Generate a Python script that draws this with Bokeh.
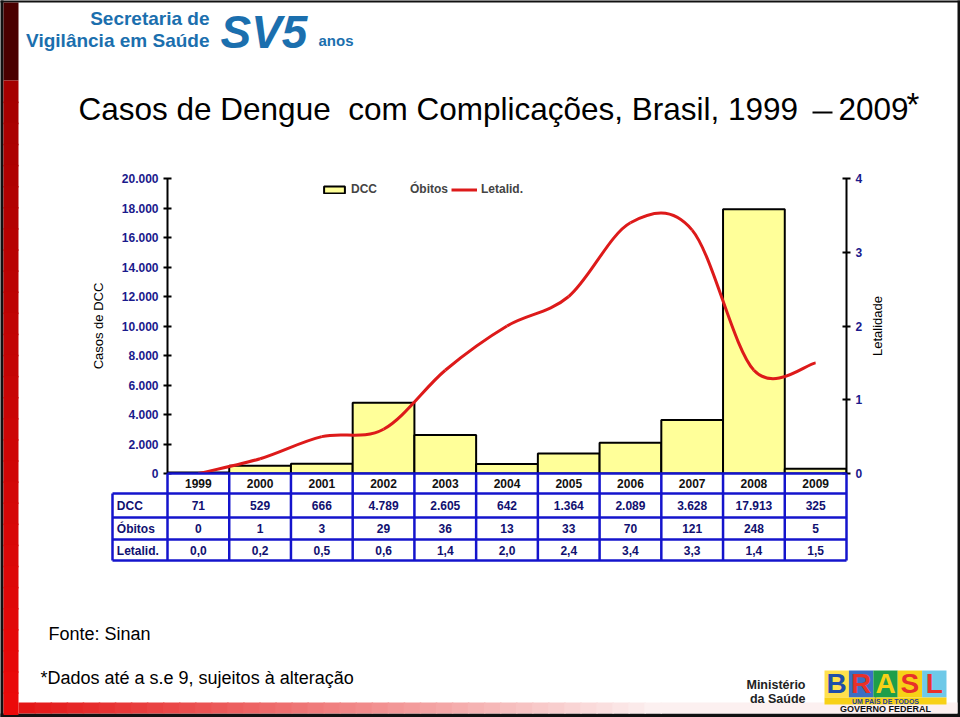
import math
from bokeh.plotting import figure
from bokeh.models import Range1d, FactorRange, LinearAxis, FixedTicker, Legend, LegendItem
from bokeh.core.properties import value
from bokeh.embed import file_html
from bokeh.resources import INLINE

# ---------------- data ----------------
years = ["1999", "2000", "2001", "2002", "2003", "2004", "2005", "2006", "2007", "2008", "2009"]
dcc = [71, 529, 666, 4789, 2605, 642, 1364, 2089, 3628, 17913, 325]
obitos = [0, 1, 3, 29, 36, 13, 33, 70, 121, 248, 5]
letalid = [0.0, 0.2, 0.5, 0.6, 1.4, 2.0, 2.4, 3.4, 3.3, 1.4, 1.5]
left_ticks = [0, 2000, 4000, 6000, 8000, 10000, 12000, 14000, 16000, 18000, 20000]
left_tick_labels = ["0", "2.000", "4.000", "6.000", "8.000", "10.000", "12.000", "14.000", "16.000", "18.000", "20.000"]
right_ticks = [0, 1, 2, 3, 4]
right_tick_labels = ["0", "1", "2", "3", "4"]
row_labels = ["DCC", "Óbitos", "Letalid."]
series_names = ["DCC", "Óbitos", "Letalid."]

def fmt_int(n):
    return f"{n:,}".replace(",", ".")

def fmt_dec(v):
    return f"{v:.1f}".replace(".", ",")

dcc_txt = [fmt_int(v) for v in dcc]
obitos_txt = [str(v) for v in obitos]
letalid_txt = [fmt_dec(v) for v in letalid]

# ---------------- layout constants (reference pixels) ----------------
W, H = 960, 717
FL, FR, FT, FB = 167, 846, 178, 473
FONT = "Liberation Sans"
BLUE = "#1414CC"
NAVY = "#1A1A8C"
RED = "#DD1A1A"
n = len(years)
UNIT = (FR - FL) / n


def cx(xpix):
    """page-pixel x -> categorical coordinate (first factor + offset)"""
    return (years[0], (xpix - FL) / UNIT - 0.5)


p = figure(width=W, height=H, x_range=FactorRange(*years), y_range=Range1d(0, 20000),
           x_axis_location=None, output_backend="svg", toolbar_location=None,
           min_border_left=FL, min_border_right=W - FR,
           min_border_top=FT, min_border_bottom=H - FB,
           background_fill_color="white", border_fill_color="white", outline_line_color=None)
p.grid.visible = False
p.extra_y_ranges = {"let": Range1d(0, 4), "py": Range1d(FB, FT)}


def style_axis(ax):
    ax.axis_line_width = 2
    ax.axis_line_color = "black"
    ax.major_tick_in = 4
    ax.major_tick_out = 4
    ax.major_tick_line_width = 2
    ax.major_tick_line_color = "black"
    ax.minor_tick_line_color = None
    ax.major_label_standoff = 5
    ax.major_label_text_font = FONT
    ax.major_label_text_font_size = "12px"
    ax.major_label_text_font_style = "bold"
    ax.major_label_text_color = NAVY
    ax.axis_label_text_font = FONT
    ax.axis_label_text_font_size = "13px"
    ax.axis_label_text_font_style = "normal"
    ax.axis_label_text_color = "black"


lax = p.yaxis[0]
lax.ticker = FixedTicker(ticks=left_ticks)
lax.major_label_overrides = dict(zip(left_ticks, left_tick_labels))
lax.axis_label = "Casos de DCC"
style_axis(lax)
lax.axis_label_standoff = 13

rax = LinearAxis(y_range_name="let", ticker=FixedTicker(ticks=right_ticks),
                 major_label_overrides=dict(zip(right_ticks, right_tick_labels)))
style_axis(rax)
p.add_layout(rax, "right")

# ---------------- bars ----------------
bars = p.vbar(x=years, top=dcc, width=1.0, fill_color="#FFFF99", line_color="black", line_width=2)

# ---------------- smoothed letalidade curve ----------------
bx0, by0, bx1, by1, cx0, cy0, cx1, cy1 = [], [], [], [], [], [], [], []
for i in range(n - 1):
    ym1 = letalid[i - 1] if i > 0 else letalid[i]
    yp2 = letalid[i + 2] if i + 2 < n else letalid[i + 1]
    da = 1 / 3 if i > 0 else 1 / 6
    db = 1 / 3 if i + 2 < n else 1 / 6
    bx0.append((years[i], 0.0)); by0.append(letalid[i])
    bx1.append((years[i + 1], 0.0)); by1.append(letalid[i + 1])
    cx0.append((years[i], da)); cy0.append(letalid[i] + (letalid[i + 1] - ym1) / 6)
    cx1.append((years[i + 1], -db)); cy1.append(letalid[i + 1] - (yp2 - letalid[i]) / 6)
curve = p.bezier(x0=bx0, y0=by0, x1=bx1, y1=by1, cx0=cx0, cy0=cy0, cx1=cx1, cy1=cy1,
                 y_range_name="let", line_color=RED, line_width=3)

# ---------------- legend ----------------
legend = Legend(items=[LegendItem(label=series_names[0], renderers=[bars]),
                       LegendItem(label=series_names[1], renderers=[]),
                       LegendItem(label=series_names[2], renderers=[curve])],
                orientation="horizontal", location=(154, 277), glyph_width=26, glyph_height=9,
                label_standoff=4, spacing=3, padding=0, margin=0, label_height=12,
                border_line_color=None, background_fill_alpha=0,
                label_text_font=FONT, label_text_font_size="12px", label_text_font_style="bold")
p.add_layout(legend)

# ---------------- data table below the chart ----------------
LABW = 55 / UNIT
lab_left = -0.5 - LABW
row_edges = [473, 493, 517, 539, 560]
row_mid = [483, 505, 528, 550]

hx0 = [(years[0], -0.5)] + [(years[0], lab_left)] * 4
hx1 = [(years[-1], 0.5)] * 5
p.segment(x0=hx0, x1=hx1, y0=row_edges, y1=row_edges, y_range_name="py",
          line_color=BLUE, line_width=2.5, level="overlay")
vx = [(y, -0.5) for y in years] + [(years[-1], 0.5), (years[0], lab_left)]
vy0 = [row_edges[0]] * (n + 1) + [row_edges[1]]
vy1 = [row_edges[-1]] * (n + 2)
p.segment(x0=vx, x1=vx, y0=vy0, y1=vy1, y_range_name="py",
          line_color=BLUE, line_width=2.5, level="overlay")

tstyle = dict(y_range_name="py", text_font=value(FONT), text_font_size="12px", text_font_style="bold",
              text_align="center", text_baseline="middle", level="overlay")
p.text(x=years, y=[row_mid[0]] * n, text=years, text_color="#111111", **tstyle)
for vals, ym in zip([dcc_txt, obitos_txt, letalid_txt], row_mid[1:]):
    p.text(x=years, y=[ym] * n, text=vals, text_color="#101070", **tstyle)
p.text(x=[(years[0], lab_left + 0.07)] * 3, y=row_mid[1:], text=row_labels, text_color="#101070",
       **{**tstyle, "text_align": "left"})


# ---------------- decorations (slide) ----------------
def txt(x, y, s, size, color="black", style="normal", align="left", baseline="middle", font=FONT, angle=0.0):
    p.text(x=[cx(x)], y=[y], text=[s], y_range_name="py", text_font=value(font),
           text_font_size=f"{size}px", text_color=color, text_font_style=style, text_align=align,
           text_baseline=baseline, angle=angle, level="overlay")


def box(l, r, t, b, color):
    p.quad(left=[cx(l)], right=[cx(r)], top=[t], bottom=[b], y_range_name="py",
           fill_color=color, line_color=None, level="overlay")


def lerp(c1, c2, t):
    return "#%02x%02x%02x" % tuple(int(round(a + (b - a) * t)) for a, b in zip(c1, c2))


# right axis title (reads bottom-to-top as in the reference)
txt(877, 325.5, "Letalidade", 13, "black", "normal", "center", "middle", angle=math.pi / 2)

# slide frame
box(0, 960, 0, 2, "#111111")
box(0, 3, 0, 717, "#111111")
box(957, 960, 0, 717, "#111111")
box(0, 960, 713, 717, "#111111")
# bottom band (red fading to white)
K = 40
for k in range(K):
    x0 = 18 + (660 - 18) * k / K
    x1 = 18 + (660 - 18) * (k + 1) / K + 1.5
    box(x0, x1, 702, 713, lerp((228, 22, 22), (252, 240, 240), k / (K - 1)))
box(660, 957, 702, 713, "#FCF0F0")
# left stripe
box(3, 18, 2, 80, "#4A0000")
K = 30
for k in range(K):
    y0 = 80 + (713 - 80) * k / K
    y1 = 80 + (713 - 80) * (k + 1) / K + 1.5
    box(3, 18, y0, y1, lerp((165, 0, 0), (235, 10, 10), k / (K - 1)))

# header logo
LOGO = "#1B6FAE"
txt(209, 18, "Secretaria de", 19, LOGO, "bold", "right")
txt(209, 40, "Vigilância em Saúde", 19, LOGO, "bold", "right")
txt(220, 31, "SV5", 46, LOGO, "bold italic")
txt(318, 40, "anos", 15, LOGO, "bold")

# title
txt(78, 108.5, "Casos de Dengue\u00a0 com Complicações, Brasil, 1999", 31.5)
p.segment(x0=[cx(812)], x1=[cx(832)], y0=[112], y1=[112], y_range_name="py",
          line_color="black", line_width=2, level="overlay")
txt(838, 108.5, "2009", 31.5)
txt(906, 104, "*", 33)

# footer
txt(48, 633, "Fonte: Sinan", 18)
txt(40, 677, "*Dados até a s.e 9, sujeitos à alteração", 18)
txt(805, 684, "Ministério", 12.5, "#222222", "bold", "right")
txt(805, 698, "da Saúde", 12.5, "#222222", "bold", "right")

# Brasil logo (approximation)
blk_bg = ["#FFE14D", "#3B6FC4", "#1E9E4A", "#F7D117", "#6EC9E8"]
blk_fg = ["#1F4FA8", "#E8312A", "#F7D117", "#E8312A", "#E8312A"]
for i, (bg, fg, ch) in enumerate(zip(blk_bg, blk_fg, "BRASL")):
    l = 824 + i * 24.4
    box(l, l + 24.4, 670, 697, bg)
    txt(l + 12.2, 683, ch, 28, fg, "bold", "center")
box(824, 946, 697, 704, "#F7D117")
txt(885, 700.5, "UM PAÍS DE TODOS", 7, "#1F3F98", "bold", "center")
txt(885, 708.5, "GOVERNO FEDERAL", 9, "#111111", "bold", "center")

open("out.html", "w").write(file_html(p, INLINE))
